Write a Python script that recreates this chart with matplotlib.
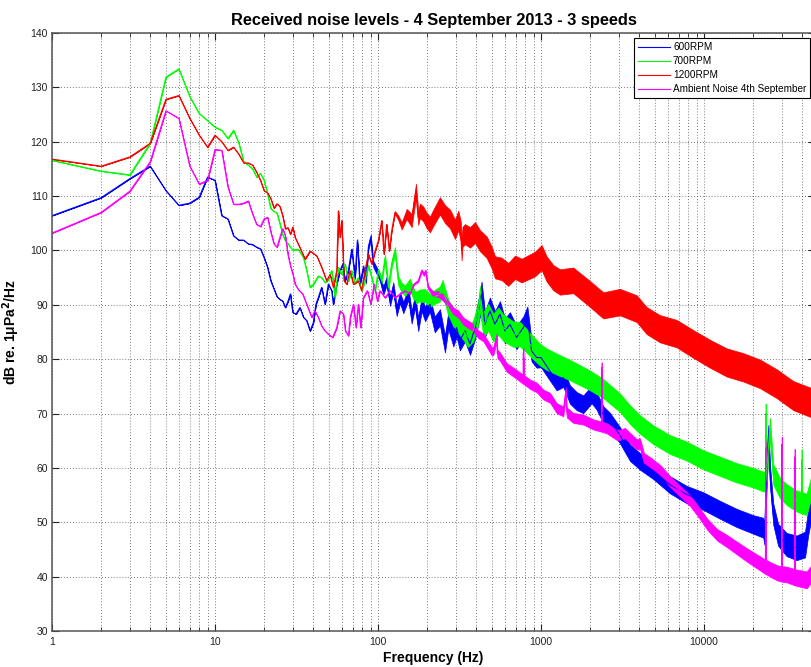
import numpy as np
import matplotlib
matplotlib.use('Agg')
import matplotlib.pyplot as plt
from matplotlib.ticker import FixedLocator, FuncFormatter, NullFormatter

# 1 Hz bins at the bottom end of the spectrum
low_freq = list(range(1, 31))

# 600 RPM
blue_freq = low_freq + [
    31.4, 33.2, 34.9, 36.5, 38.3, 40.1, 41.6, 43, 45.1, 47.3,
    49.6, 52, 53.2, 55.8, 58.5, 60.8, 62.8, 65.8, 69, 72.3,
    74.7, 77.5, 81.3, 84.4, 87.3, 90.3, 93.6, 98.1, 102.9, 107.8,
    113, 118.5, 124.2, 130.2, 136.5, 143, 153.6, 160.9, 168.7, 176.6,
    185.3, 194.5, 208, 223, 240, 257.6, 270, 290, 303.5, 318,
    342, 367, 394, 422, 432, 453, 486, 522, 560, 601,
    645, 708, 779, 825, 876, 940, 1000, 1136, 1248, 1371,
    1506, 1654, 1817, 2046, 2195, 2410, 2650, 3053, 3516, 4050,
    4887, 6185, 7830, 9902, 12530, 15870, 20070, 23110, 23500, 24810,
    25500, 26620, 28500, 32140, 37040, 41690, 43700, 45300, 48000]
blue_db = [
    106.4, 109.7, 113.2, 115.5, 111.0, 108.3, 108.7, 109.8, 113.5, 112.9,
    106.4, 105.8, 102.7, 101.9, 101.9, 101.2, 101.1, 100.6, 100.3, 98.7,
    96.9, 94.4, 92.9, 91.5, 91.0, 90.7, 89.5, 90.6, 92.0, 88.6,
    88.3, 89.5, 87.7, 87.1, 85.2, 86.7, 90.1, 91.3, 93.2, 90.1,
    93.8, 92.6, 90.1, 93.8, 96.3, 97.5, 94.4, 96.3, 100.2, 95.0,
    101.8, 93.8, 96.9, 94.4, 100.6, 102.4, 97.5, 96.3, 95.0, 92.6,
    94.4, 90.7, 93.2, 88.9, 91.3, 89.5, 92.0, 87.7, 90.7, 86.4,
    90.1, 88.3, 90.1, 86.4, 87.7, 82.8, 87.1, 84.0, 85.8, 83.4,
    85.2, 82.8, 85.8, 90.1, 92.0, 86.4, 88.9, 86.4, 88.3, 85.2,
    86.4, 84.0, 85.8, 87.7, 81.5, 80.3, 80.3, 77.8, 76.0, 76.6,
    73.5, 72.3, 71.7, 73.5, 72.3, 69.8, 68.6, 66.0, 62.8, 61.2,
    59.5, 56.9, 55.1, 53.9, 52.3, 50.8, 49.6, 49.0, 47.7, 66.0,
    58.0, 51.5, 47.7, 45.9, 45.3, 45.9, 50.2, 52.6, 54.0]
# half-thickness of the noisy trace (dB) at a few frequencies
blue_spread_f = [60, 120, 300, 500, 1000, 3000, 20000, 48000]
blue_spread_db = [0.0, 0.9, 1.7, 2.5, 1.8, 1.5, 1.7, 2.5]

# 700 RPM
green_freq = low_freq + [
    32.4, 34.9, 36.5, 38.3, 40.1, 43, 45.1, 47.3, 49.6, 52,
    54.5, 57.1, 59.9, 62.8, 65.8, 69, 72.3, 75.7, 79.4, 83.2,
    87.3, 91.5, 95.9, 100.5, 105.4, 110.5, 115.8, 121.3, 127.1, 133.3,
    139.7, 146.5, 157.2, 168.7, 181, 194.5, 208.5, 218, 240, 249,
    270, 290, 311, 334, 358, 384, 412, 422, 443, 475,
    510, 548, 587, 630, 677, 743, 815, 895, 983, 1083,
    1247, 1506, 1998, 2410, 3053, 3516, 4050, 4887, 6185, 7830,
    9902, 12530, 15870, 20070, 23110, 23850, 23900, 23950, 25410, 26620,
    29250, 32140, 37040, 39700, 39720, 39740, 42660, 45300, 48000]
green_db = [
    116.6, 114.6, 113.9, 119.7, 131.9, 133.4, 128.3, 125.2, 123.9, 122.7,
    122.1, 120.6, 122.1, 119.7, 116.3, 115.7, 115.0, 113.5, 114.2, 112.9,
    110.4, 107.7, 107.2, 106.9, 104.9, 102.9, 101.8, 101.3, 100.6, 100.1,
    100.2, 98.7, 96.3, 93.2, 93.8, 95.3, 95.0, 94.1, 94.7, 96.3,
    91.3, 96.9, 95.6, 97.5, 94.4, 96.3, 93.8, 95.0, 92.6, 94.4,
    97.2, 95.0, 92.6, 96.3, 94.4, 98.7, 93.2, 97.5, 99.9, 94.4,
    93.2, 92.6, 93.8, 91.3, 91.7, 91.7, 90.8, 91.3, 92.0, 93.2,
    89.5, 87.7, 86.4, 85.2, 84.0, 85.2, 88.3, 91.3, 86.4, 87.7,
    85.8, 87.0, 85.8, 85.2, 84.6, 84.6, 83.4, 82.1, 80.9, 80.0,
    79.1, 78.0, 76.1, 74.6, 72.0, 69.8, 68.0, 66.1, 64.3, 63.1,
    61.5, 60.3, 59.1, 58.2, 57.5, 57.5, 70.0, 57.5, 67.4, 58.8,
    56.3, 55.1, 53.9, 53.6, 61.5, 53.6, 53.3, 56.3, 58.0]
green_spread_f = [80, 140, 350, 500, 1000, 3000, 20000, 48000]
green_spread_db = [0.0, 0.9, 1.7, 2.6, 2.0, 1.7, 1.8, 2.0]

# 1200 RPM
red_freq = low_freq + [
    31, 33.2, 35.7, 38.3, 42.1, 45.1, 48.4, 50.8, 53.2, 55.8,
    57.1, 58.5, 59.9, 61.9, 64.3, 67.3, 70.6, 75.7, 79.4, 83.2,
    87.3, 91.5, 95.9, 100.5, 105.4, 108.8, 113, 117.3, 121.3, 127.1,
    133.3, 139.7, 150, 160.9, 171, 176.6, 181, 189.7, 198.9, 208.5,
    218.4, 239.9, 257.6, 276.5, 296.8, 311, 322, 326, 330, 341.8,
    366.8, 393.7, 422.5, 464.3, 498.3, 522.2, 573.7, 630.3, 692.6, 761,
    835.9, 918.4, 1009, 1083, 1190, 1308, 1578, 1998, 2410, 3053,
    3863, 4450, 5370, 6800, 8600, 10890, 13780, 17430, 22070, 27920,
    35320, 44700, 48000]
red_db = [
    116.8, 115.5, 117.2, 119.7, 127.8, 128.5, 124.3, 121.2, 119.0, 121.2,
    120.0, 118.4, 119.0, 117.7, 116.1, 116.1, 115.7, 114.4, 112.9, 111.0,
    110.6, 109.5, 107.8, 108.6, 108.1, 106.4, 104.0, 104.2, 103.0, 104.3,
    102.4, 100.5, 98.4, 99.9, 99.0, 96.9, 94.4, 95.6, 93.2, 96.3,
    107.3, 102.4, 105.5, 94.4, 93.8, 96.3, 93.8, 94.4, 92.6, 96.3,
    99.3, 97.5, 99.9, 101.8, 105.5, 99.3, 104.8, 99.9, 103.6, 107.0,
    106.0, 104.5, 106.7, 105.5, 111.0, 106.0, 107.3, 106.7, 105.5, 104.8,
    106.0, 108.2, 106.7, 105.8, 103.9, 105.5, 103.5, 100.0, 102.5, 103.0,
    102.4, 103.3, 101.8, 100.6, 98.7, 96.9, 96.6, 95.6, 96.9, 96.3,
    96.9, 97.5, 98.7, 96.6, 95.0, 94.2, 94.5, 92.0, 89.9, 90.5,
    89.3, 87.1, 85.6, 84.7, 82.8, 81.0, 79.4, 78.5, 77.3, 75.5,
    73.3, 72.1, 72.0]
red_spread_f = [120, 160, 300, 1000, 5000, 48000]
red_spread_db = [0.0, 1.2, 1.8, 2.3, 2.5, 2.7]

# ambient noise, 4th September
mag_freq = low_freq + [
    31, 32.5, 34.5, 36.5, 39.2, 41, 43, 45.1, 47.3, 49.6,
    52.7, 55.8, 58.5, 61.3, 63.1, 65.8, 67.6, 70.6, 73.3, 75.7,
    78.3, 81.3, 86, 90.3, 94.6, 99.1, 102.9, 110.5, 118.5, 127.1,
    136.5, 146.5, 157.2, 166.1, 176.6, 185.3, 191, 196, 203, 218,
    234, 252, 270, 290, 311, 334, 358, 384, 412, 443,
    475, 498, 510, 535, 540, 560, 587, 616, 709, 778,
    780, 782, 856, 941, 1033, 1136, 1248, 1371, 1420, 1440,
    1578, 1817, 2094, 2350, 2355, 2360, 2530, 2911, 3053, 3280,
    3516, 3880, 4050, 4280, 4730, 5470, 6185, 7150, 8260, 9530,
    10500, 12050, 13900, 15870, 18330, 21150, 23850, 23900, 23950, 26000,
    28140, 29950, 30000, 30050, 32140, 35950, 36000, 36050, 37040, 42660,
    45300, 48000]
mag_db = [
    103.2, 107.0, 110.9, 116.3, 125.7, 124.3, 115.5, 112.2, 112.9, 118.6,
    118.4, 111.7, 108.5, 108.5, 108.7, 109.1, 106.7, 104.8, 104.4, 105.8,
    106.1, 103.4, 101.2, 100.6, 102.4, 104.0, 102.7, 99.3, 97.2, 95.7,
    93.8, 92.8, 92.0, 90.1, 87.7, 88.9, 87.7, 86.1, 85.2, 84.6,
    84.0, 85.8, 88.9, 88.3, 85.2, 84.3, 87.7, 90.1, 85.8, 90.1,
    85.8, 91.3, 92.6, 90.1, 93.8, 90.7, 92.6, 91.3, 92.6, 91.3,
    92.0, 92.6, 92.0, 93.8, 94.4, 96.3, 95.6, 96.2, 93.2, 92.0,
    92.0, 91.3, 90.1, 88.9, 88.3, 87.0, 86.4, 85.8, 84.6, 84.0,
    82.5, 81.5, 81.5, 84.0, 81.0, 80.5, 79.5, 78.5, 77.2, 76.3,
    81.2, 76.3, 75.4, 74.8, 73.5, 72.9, 71.0, 70.4, 74.0, 70.2,
    69.2, 68.9, 68.0, 67.6, 78.5, 67.6, 67.3, 66.1, 66.1, 66.4,
    65.5, 64.3, 64.5, 61.8, 60.9, 59.4, 57.5, 55.7, 53.9, 51.4,
    49.6, 47.7, 46.5, 45.3, 44.0, 42.8, 41.8, 63.7, 41.8, 41.2,
    40.7, 40.5, 64.3, 40.5, 40.4, 39.9, 62.0, 39.9, 39.8, 39.4,
    40.4, 41.0]
mag_spread_f = [150, 250, 1000, 10000, 48000]
mag_spread_db = [0.0, 0.6, 0.9, 1.0, 1.6]

series = [
    ('600RPM', blue_freq, blue_db, blue_spread_f, blue_spread_db, '#0000ff'),
    ('700RPM', green_freq, green_db, green_spread_f, green_spread_db, '#00ff00'),
    ('1200RPM', red_freq, red_db, red_spread_f, red_spread_db, '#ff0000'),
    ('Ambient Noise 4th September', mag_freq, mag_db, mag_spread_f, mag_spread_db, '#ff00ff'),
]

plt.rcParams['font.family'] = ['Liberation Sans', 'DejaVu Sans']

fig = plt.figure(figsize=(8.11, 6.67), dpi=100)
# axes run slightly past the right edge of the figure
ax = fig.add_axes([52 / 811, 36 / 667, 763 / 811, 598 / 667])


def plot_spectrum(ax, label, freq, level, spread_f, spread_db, color):
    freq = np.asarray(freq, dtype=float)
    level = np.asarray(level, dtype=float)
    # trace thickness, varied smoothly along log frequency
    spread = np.interp(np.log10(freq), np.log10(spread_f), spread_db)
    ax.fill_between(freq, level - spread, level + spread, color=color, lw=0.5)
    ax.plot(freq, level, color=color, lw=0.8, label=label)


for label, f, db, s_f, s_db, col in series:
    plot_spectrum(ax, label, f, db, s_f, s_db, col)

ax.set_xscale('log')
ax.set_xlim(1, 48000)
ax.set_ylim(30, 140)
ax.set_yticks(np.arange(30, 141, 10))
ax.xaxis.set_major_locator(FixedLocator([1, 10, 100, 1000, 10000]))
ax.xaxis.set_major_formatter(FuncFormatter(lambda v, p: f'{v:g}'))
minor = [m * 10 ** d for d in range(5) for m in range(2, 10)]
ax.xaxis.set_minor_locator(FixedLocator(minor))
ax.xaxis.set_minor_formatter(NullFormatter())

ax.set_axisbelow(True)
ax.grid(True, which='major', axis='both', color='0.3', linestyle=(0, (1, 2.5)), lw=0.6)
ax.grid(True, which='minor', axis='x', color='0.3', linestyle=(0, (1, 2.5)), lw=0.6)

ax.tick_params(which='both', direction='in', top=True, right=True,
               labelsize=7.5, colors='#222222')
ax.tick_params(which='major', length=5, width=0.8)
ax.tick_params(which='minor', length=3, width=0.6)
ax.tick_params(axis='y', pad=3)
ax.tick_params(axis='x', pad=4)
for sp in ax.spines.values():
    sp.set_color('#555555')
    sp.set_linewidth(1.1)

ax.set_title('Received noise levels - 4 September 2013 - 3 speeds',
             fontsize=11.8, fontweight='bold', pad=6)
ax.set_xlabel('Frequency (Hz)', fontsize=10, fontweight='bold', labelpad=3)
ax.set_ylabel('dB re. 1\u03bcPa$^\\mathbf{2}$/Hz', fontsize=10, fontweight='bold', labelpad=6)

leg = ax.legend(loc='upper left', bbox_to_anchor=(634 / 811, 1 - 38 / 667),
                bbox_transform=fig.transFigure, fontsize=7.2, frameon=True,
                fancybox=False, framealpha=1, edgecolor='black',
                handlelength=3.2, handletextpad=0.3, labelspacing=0.4,
                borderpad=0.4, borderaxespad=0)
leg.get_frame().set_linewidth(0.8)

plt.savefig('out.png', dpi=100)
plt.close()
